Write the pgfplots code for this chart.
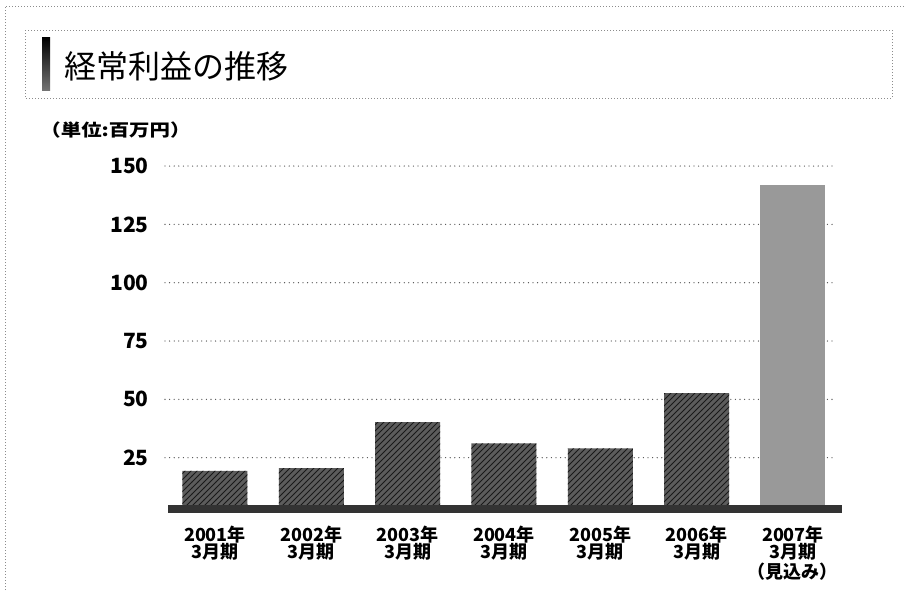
\documentclass[border=0pt]{standalone}
\usepackage{pgfplots}
\pgfplotsset{compat=1.18}
\usepackage{fontspec}
\usetikzlibrary{patterns}
\setmainfont{Noto Sans CJK JP}
\begin{document}
\begin{tikzpicture}
\begin{scope}[x=0.5pt,y=-0.5pt]
% outer frame
\draw[black!45, line width=0.5pt, dash pattern=on 0.5pt off 1pt] (5,590) -- (5,6) -- (905,6);
% title box
\draw[black!45, line width=0.5pt, dash pattern=on 0.5pt off 1pt] (25,30) rectangle (892,98);
\shade[top color=black, bottom color=black!55] (42,37) rectangle (50,90);
\node[anchor=west, inner sep=0pt, font=\fontsize{16}{16}\selectfont] at (64,66) {経常利益の推移};
% unit
\node[anchor=west, inner sep=0pt, xscale=1.2, font=\fontsize{8.5}{8.5}\selectfont\bfseries] at (40,130) {（単位:百万円）};
\end{scope}
\begin{axis}[
  at={(82.5pt,-254.5pt)}, anchor=south west,
  scale only axis, width=335pt, height=173.8pt,
  xmin=-0.519, xmax=6.436, ymin=3, ymax=152,
  ybar, bar width=32.5pt, bar shift=0pt,
  axis line style={draw=none},
  major tick length=0pt,
  xtick={0,...,6},
  xticklabels={{2001年\\3月期},{2002年\\3月期},{2003年\\3月期},{2004年\\3月期},{2005年\\3月期},{2006年\\3月期},{2007年\\3月期\\（見込み）}},
  xticklabel style={align=center, font=\fontsize{9}{8.5}\selectfont\bfseries, anchor=north, yshift=-8.5pt, inner sep=0pt},
  ytick={25,50,75,100,125,150},
  /pgf/number format/assume math mode=true,
  yticklabel style={font=\fontsize{10.5}{10.5}\selectfont\bfseries, anchor=east, xshift=-8pt, inner sep=0pt},
  ymajorgrids,
  grid style={black!70, line width=0.65pt, line cap=round, dash pattern=on 0pt off 2.3pt},
]
\addplot[fill=black!64, draw=none, postaction={pattern=north east lines, pattern color=black!90}]
  coordinates {(0,19.4) (1,20.5) (2,40.2) (3,31.1) (4,29.0) (5,52.7)};
\addplot[fill=black!40, draw=none]
  coordinates {(6,141.7)};
\end{axis}
\begin{scope}[x=0.5pt,y=-0.5pt]
% baseline
\draw[black!80, line width=4pt] (168,509) -- (842,509);
\pgfresetboundingbox
\path[use as bounding box] (0,0) rectangle (905,590);
\end{scope}
\end{tikzpicture}
\end{document}
